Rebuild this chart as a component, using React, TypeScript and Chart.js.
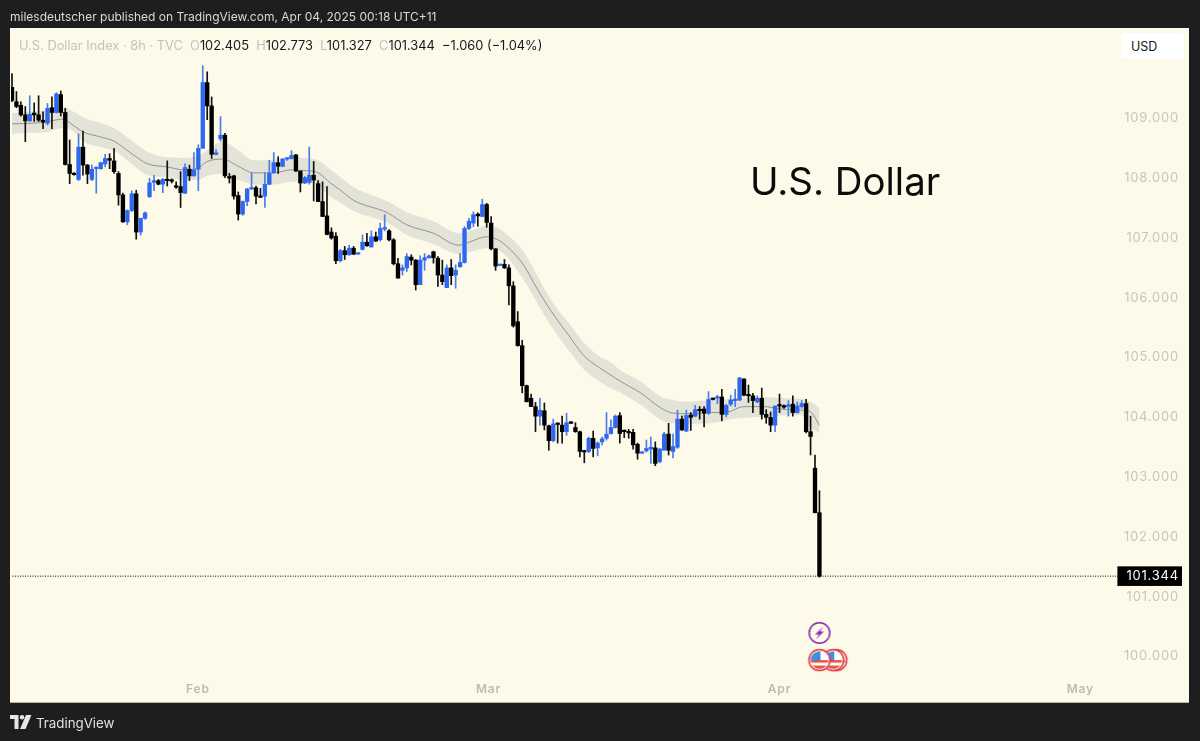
import React, { useEffect, useRef } from "react";
import { Chart, registerables } from "chart.js";

Chart.register(...registerables);

const opens = [109.52,109.28,109.22,109.06,108.96,109.09,109.06,108.97,108.92,109.18,109.10,109.40,109.10,108.23,108.08,107.98,108.52,108.22,107.98,108.16,108.16,108.24,108.33,108.29,108.08,107.72,107.27,107.46,107.74,107.10,107.33,107.69,107.93,107.96,107.90,107.98,107.97,107.87,107.86,107.75,108.15,108.04,108.15,108.50,109.60,109.21,108.40,108.66,108.72,108.03,108.04,107.71,107.40,107.61,107.82,107.84,107.70,107.70,107.90,108.09,108.26,108.20,108.32,108.33,108.39,108.12,107.92,107.93,108.05,107.91,107.61,107.37,107.10,107.03,106.62,106.79,106.72,106.83,106.73,106.81,106.93,106.85,107.02,106.97,107.15,107.12,106.97,106.57,106.46,106.50,106.68,106.63,106.22,106.63,106.67,106.77,106.66,106.38,106.17,106.50,106.38,106.52,106.59,107.16,107.25,107.40,107.36,107.56,107.25,106.82,106.54,106.56,106.50,106.20,105.60,105.20,104.53,104.32,104.18,104.02,104.11,103.86,103.61,103.90,103.87,103.76,103.92,103.83,103.76,103.44,103.43,103.65,103.49,103.59,103.65,103.73,103.83,104.03,103.77,103.76,103.75,103.55,103.40,103.44,103.47,103.49,103.26,103.45,103.72,103.43,103.50,103.97,103.77,104.04,104.02,104.13,104.14,104.07,104.32,104.32,104.34,104.05,104.22,104.28,104.29,104.64,104.38,104.36,104.26,104.32,104.05,104.00,103.87,104.21,104.19,104.18,104.22,104.08,104.18,104.23,103.76,103.15,102.405];
const highs = [109.75,109.45,109.28,109.20,109.38,109.26,109.38,109.11,109.25,109.36,109.43,109.46,109.17,108.64,108.09,108.74,108.79,108.23,108.22,108.19,108.27,108.40,108.41,108.50,108.11,107.75,107.47,107.79,107.80,107.33,107.44,108.00,108.05,107.98,108.00,108.29,107.99,107.94,108.11,108.24,108.22,108.43,108.56,109.88,109.78,109.36,108.48,109.03,108.75,108.08,108.05,107.77,107.62,107.83,108.09,107.87,107.83,108.09,108.30,108.43,108.36,108.33,108.34,108.46,108.40,108.12,108.03,108.52,108.28,107.96,107.94,107.86,107.17,107.09,106.81,106.86,106.88,106.86,106.75,107.05,107.08,107.12,107.10,107.25,107.39,107.14,106.99,106.66,106.55,106.74,106.72,106.64,106.70,106.74,106.72,106.78,106.69,106.63,106.55,106.64,106.55,106.74,107.19,107.33,107.44,107.42,107.65,107.58,107.36,106.82,106.56,106.64,106.55,106.27,105.77,105.29,104.54,104.39,104.25,104.32,104.24,103.87,103.97,103.91,104.02,104.07,103.93,103.91,103.77,103.45,103.67,103.77,103.59,103.67,104.08,103.96,104.04,104.08,103.79,103.80,103.80,103.57,103.42,103.62,103.67,103.59,103.48,103.75,103.90,103.72,104.12,104.02,104.12,104.08,104.20,104.18,104.18,104.43,104.32,104.37,104.47,104.22,104.37,104.47,104.67,104.65,104.54,104.40,104.36,104.49,104.13,104.09,104.19,104.39,104.21,104.28,104.36,104.26,104.28,104.30,104.02,103.37,102.773];
const lows = [109.28,109.18,109.04,108.61,108.95,108.95,108.95,108.83,108.89,108.83,109.09,109.04,108.22,107.91,108.05,107.96,108.05,107.91,107.96,107.75,108.15,108.19,108.16,108.08,107.55,107.26,107.22,107.44,106.98,107.05,107.31,107.68,107.79,107.89,107.76,107.87,107.92,107.83,107.51,107.74,107.96,108.03,107.79,108.50,108.98,108.33,108.39,108.62,108.01,107.92,107.65,107.30,107.38,107.54,107.81,107.57,107.68,107.51,107.89,108.08,108.08,108.19,108.30,108.32,108.11,107.77,107.91,107.90,107.62,107.61,107.36,107.05,106.98,106.57,106.60,106.64,106.71,106.72,106.73,106.80,106.86,106.85,106.94,106.95,107.12,106.95,106.55,106.33,106.38,106.44,106.55,106.13,106.22,106.46,106.66,106.58,106.19,106.22,106.17,106.22,106.16,106.51,106.58,107.14,107.19,107.20,107.36,107.18,106.80,106.46,106.54,106.49,105.88,105.51,105.19,104.41,104.26,104.18,103.76,103.87,103.79,103.45,103.59,103.57,103.57,103.70,103.90,103.75,103.34,103.24,103.41,103.34,103.36,103.54,103.62,103.72,103.82,103.57,103.66,103.65,103.47,103.30,103.40,103.42,103.23,103.19,103.24,103.45,103.37,103.32,103.48,103.78,103.76,103.78,104.01,103.97,103.84,104.05,104.29,104.23,103.94,104.01,104.19,104.18,104.28,104.36,104.25,104.08,104.24,103.97,103.90,103.76,103.76,104.08,104.15,104.02,104.02,104.07,104.15,103.74,103.37,102.40,101.327];
const closes = [109.30,109.20,109.06,108.96,109.07,109.06,108.97,108.94,109.17,109.10,109.41,109.10,108.23,108.08,108.06,108.52,108.22,108.07,108.15,108.18,108.26,108.33,108.30,108.11,107.72,107.27,107.46,107.74,107.10,107.33,107.42,107.92,107.96,107.90,107.98,107.96,107.95,107.85,107.76,108.18,108.04,108.14,108.50,109.60,109.21,108.40,108.41,108.72,108.04,108.00,107.70,107.40,107.61,107.82,107.84,107.70,107.68,107.90,108.08,108.26,108.20,108.32,108.33,108.38,108.12,107.92,108.01,108.05,107.97,107.61,107.36,107.06,107.00,106.62,106.79,106.72,106.83,106.73,106.75,106.93,106.87,107.02,106.95,107.16,107.17,106.97,106.57,106.33,106.50,106.69,106.63,106.22,106.63,106.67,106.70,106.67,106.38,106.27,106.50,106.37,106.46,106.59,107.16,107.28,107.39,107.37,107.56,107.26,106.82,106.53,106.56,106.50,106.20,105.53,105.20,104.53,104.26,104.18,104.02,104.12,103.87,103.61,103.89,103.88,103.76,103.91,103.90,103.76,103.43,103.42,103.65,103.48,103.57,103.64,103.72,103.83,104.02,103.73,103.76,103.74,103.54,103.40,103.42,103.48,103.50,103.23,103.47,103.72,103.45,103.51,103.97,103.79,104.03,104.00,104.13,104.11,104.07,104.30,104.30,104.34,104.05,104.20,104.29,104.30,104.66,104.37,104.36,104.28,104.32,104.05,104.00,103.87,104.19,104.19,104.17,104.21,104.08,104.19,104.23,103.76,103.68,102.405,101.344];

const emaIndex = [0,4.3,7.7,11.5,13.7,16.2,20,23,26.8,30.6,35,38.7,41.9,44,47.5,51,54.5,56.8,60,62.8,65.8,69,71.8,74,77,84.7,89,95,100.7,103.4,106.8,109.5,111.7,115.3,118.3,121.4,125.9,128.8,132,134.9,137.2,141.7,146.2,149,152.3,157.4,161.3,164.9,169.4,173.2,177.7,180,182];
const emaMid = [108.91,108.92,108.94,108.99,108.89,108.77,108.69,108.62,108.42,108.24,108.19,108.14,108.17,108.28,108.32,108.20,108.09,108.09,108.10,108.14,108.13,108.09,107.92,107.80,107.63,107.42,107.22,107.08,106.88,106.94,107.02,106.97,106.85,106.55,106.16,105.79,105.33,105.04,104.85,104.71,104.60,104.41,104.16,104.07,104.06,104.08,104.09,104.18,104.18,104.14,104.12,104.09,103.87];
const emaUpper = [109.09,109.11,109.14,109.19,109.12,109.01,108.92,108.84,108.64,108.44,108.35,108.34,108.37,108.47,108.61,108.47,108.30,108.30,108.32,108.35,108.34,108.30,108.14,108.02,107.85,107.61,107.43,107.28,107.08,107.12,107.20,107.17,107.05,106.77,106.38,105.97,105.54,105.26,105.04,104.92,104.79,104.60,104.35,104.29,104.26,104.29,104.31,104.32,104.34,104.32,104.31,104.26,104.16];
const emaLower = [108.74,108.76,108.77,108.84,108.79,108.61,108.52,108.46,108.25,108.05,108.02,107.97,107.97,108.04,108.07,107.97,107.90,107.89,107.90,107.94,107.94,107.87,107.69,107.59,107.45,107.25,107.05,106.90,106.73,106.77,106.83,106.80,106.67,106.30,105.93,105.54,105.08,104.81,104.62,104.49,104.41,104.21,103.96,103.90,103.89,103.90,103.96,103.99,104.01,104.03,104.04,103.82,103.75];

const priceTicks = [100, 101, 102, 103, 104, 105, 106, 107, 108, 109];
const lastPrice = 101.344;
const monthLabels = ["Feb", "Mar", "Apr", "May"];
const monthIndex = [41.9, 107.4, 173, 240.8];
const eventIndex = [185.8, 185.1, 182];
const eventPrice = [99.94, 99.94, 99.94];
const boltIndex = [182];
const boltPrice = [100.395];

const CREAM = "#fdfae9";
const BLUE = "#2f68f0";
const BLUE_WICK = "#4a7de8";
const FONT = "Inter, 'Liberation Sans', sans-serif";

function flagIcon(): HTMLCanvasElement {
  const c = document.createElement("canvas");
  c.width = 26;
  c.height = 26;
  const g = c.getContext("2d")!;
  g.beginPath();
  g.arc(13, 13, 11, 0, Math.PI * 2);
  g.fillStyle = "#fff";
  g.fill();
  g.save();
  g.beginPath();
  g.arc(13, 13, 8.8, 0, Math.PI * 2);
  g.clip();
  g.fillStyle = "#fff";
  g.fillRect(0, 0, 26, 26);
  g.fillStyle = "#e0533f";
  g.fillRect(3, 13, 20, 2.5);
  g.fillRect(3, 18.5, 20, 4);
  g.fillStyle = "#3d8fe0";
  g.fillRect(3, 4, 11, 9);
  g.restore();
  g.beginPath();
  g.arc(13, 13, 10.5, 0, Math.PI * 2);
  g.strokeStyle = "#e5323e";
  g.lineWidth = 1.5;
  g.stroke();
  return c;
}

function boltIcon(): HTMLCanvasElement {
  const c = document.createElement("canvas");
  c.width = 26;
  c.height = 26;
  const g = c.getContext("2d")!;
  g.beginPath();
  g.arc(13, 13, 10.3, 0, Math.PI * 2);
  g.fillStyle = CREAM;
  g.fill();
  g.strokeStyle = "#7b2aa8";
  g.lineWidth = 1.5;
  g.stroke();
  g.beginPath();
  g.moveTo(17, 6.5);
  g.lineTo(8.5, 14.5);
  g.lineTo(12.5, 14.5);
  g.lineTo(9.5, 19.5);
  g.lineTo(17.5, 11.5);
  g.lineTo(13.5, 11.5);
  g.closePath();
  g.fillStyle = "#8e2fb5";
  g.fill();
  return c;
}

function Legend() {
  const gray = { color: "#c3c3bd" };
  const black = { color: "#131722" };
  return (
    <div style={{ position: "absolute", left: 19, top: 38, font: `12.85px ${FONT}`, whiteSpace: "pre", lineHeight: "16px" }}>
      <span style={gray}>U.S. Dollar Index · 8h · TVC  O</span>
      <span style={black}>102.405</span>
      <span style={gray}>  H</span>
      <span style={black}>102.773</span>
      <span style={gray}>  L</span>
      <span style={black}>101.327</span>
      <span style={gray}>  C</span>
      <span style={black}>101.344  −1.060 (−1.04%)</span>
    </div>
  );
}

const letterSpacingPlugin = {
  id: "letterSpacing",
  beforeUpdate(chart: any) {
    chart.ctx.letterSpacing = "0.8px";
  },
};

export default function App() {
  const ref = useRef<HTMLCanvasElement | null>(null);

  useEffect(() => {
    if (!ref.current) return;
    const up = closes.map((c, i) => c > opens[i]);
    const chart = new Chart(ref.current, {
      type: "bar",
      plugins: [letterSpacingPlugin],
      data: {
        datasets: [
          {
            type: "line",
            data: emaIndex.map((x, i) => ({ x, y: emaUpper[i] })),
            borderWidth: 0,
            pointRadius: 0,
            cubicInterpolationMode: "monotone",
            backgroundColor: "#e4e3d7",
            fill: "+1",
            order: 9,
          },
          {
            type: "line",
            data: emaIndex.map((x, i) => ({ x, y: emaLower[i] })),
            borderWidth: 0,
            pointRadius: 0,
            cubicInterpolationMode: "monotone",
            fill: false,
            order: 10,
          },
          {
            type: "line",
            data: emaIndex.map((x, i) => ({ x, y: emaMid[i] })),
            borderColor: "#939390",
            borderWidth: 1,
            pointRadius: 0,
            cubicInterpolationMode: "monotone",
            fill: false,
            order: 8,
          },
          {
            type: "line",
            data: [
              { x: -1, y: lastPrice },
              { x: 249.5, y: lastPrice },
            ],
            borderColor: "#000000",
            borderWidth: 1,
            borderDash: [1, 1.5],
            pointRadius: 0,
            fill: false,
            order: 7,
          },
          {
            type: "bar",
            data: highs.map((h, i) => ({ x: i, y: [lows[i], h] })),
            backgroundColor: up.map((u) => (u ? BLUE_WICK : "#111111")),
            barThickness: 1,
            grouped: false,
            order: 5,
          },
          {
            type: "bar",
            data: opens.map((o, i) => ({ x: i, y: [Math.min(o, closes[i]), Math.max(o, closes[i])] })),
            backgroundColor: up.map((u) => (u ? BLUE : "#000000")),
            barThickness: 3.7,
            minBarLength: 1.5,
            grouped: false,
            order: 4,
          },
          {
            type: "scatter",
            data: eventIndex.map((x, i) => ({ x, y: eventPrice[i] })),
            pointStyle: flagIcon(),
            pointRadius: 10,
            order: 2,
          },
          {
            type: "scatter",
            data: boltIndex.map((x, i) => ({ x, y: boltPrice[i] })),
            pointStyle: boltIcon(),
            pointRadius: 10,
            order: 1,
          },
        ],
      } as any,
      options: {
        responsive: false,
        animation: false,
        layout: { padding: { left: 10, top: 28, right: 11, bottom: 38 } },
        plugins: { legend: { display: false }, tooltip: { enabled: false } },
        events: [],
        scales: {
          x: {
            type: "linear",
            min: -0.225,
            max: 265.3,
            offset: false,
            grid: { display: false, drawTicks: false },
            border: { display: false },
            afterFit: (s: any) => {
              s.height = 0;
            },
            afterBuildTicks: (s: any) => {
              s.ticks = monthIndex.map((value) => ({ value }));
            },
            ticks: {
              mirror: true,
              autoSkip: false,
              maxRotation: 0,
              padding: 6,
              color: "#bcbcb6",
              font: { family: FONT, size: 12, weight: "600" },
              callback: (v: any) => monthLabels[monthIndex.indexOf(Number(v))] ?? "",
            },
          },
          y: {
            type: "linear",
            position: "right",
            min: 99.222,
            max: 110.513,
            z: 1,
            grid: { display: false, drawTicks: false },
            border: { display: false },
            afterFit: (s: any) => {
              s.width = 0;
            },
            afterBuildTicks: (s: any) => {
              s.ticks = [...priceTicks, lastPrice].map((value) => ({ value }));
            },
            ticks: {
              mirror: true,
              padding: -10,
              autoSkip: false,
              color: (c: any) => (c.tick?.value === lastPrice ? "#ffffff" : "#c6c6c0"),
              font: { family: FONT, size: 13 },
              showLabelBackdrop: (c: any) => c.tick?.value === lastPrice,
              backdropColor: "#000000",
              backdropPadding: { left: 9, right: 3, top: 2, bottom: 2 },
              callback: (v: any) => Number(v).toFixed(3),
            },
          },
        },
      } as any,
    });
    return () => chart.destroy();
  }, []);

  return (
    <div style={{ position: "fixed", left: 0, top: 0, width: 1200, height: 741, background: "#1e1e1e", overflow: "hidden" }}>
      <div style={{ position: "absolute", left: 10, top: 28, width: 1179, height: 675, background: CREAM, borderBottom: "1px solid #b9b79f", boxSizing: "border-box" }} />
      <canvas ref={ref} width={1200} height={741} style={{ position: "absolute", left: 0, top: 0, width: 1200, height: 741 }} />
      <div style={{ position: "absolute", left: 10, top: 9, color: "#d9d9d9", font: `12px ${FONT}`, lineHeight: "16px", whiteSpace: "pre" }}>
        milesdeutscher published on TradingView.com, Apr 04, 2025 00:18 UTC+11
      </div>
      <Legend />
      <div style={{ position: "absolute", left: 1121, top: 33, width: 63, height: 26, background: "#ffffff", borderRadius: 3 }} />
      <div style={{ position: "absolute", left: 1131, top: 39, color: "#131722", font: `12.5px ${FONT}`, lineHeight: "16px" }}>USD</div>
      <div style={{ position: "absolute", left: 750, top: 157, color: "#0b0b0b", font: `38.4px ${FONT}`, lineHeight: "48px", whiteSpace: "pre" }}>U.S. Dollar</div>
      <svg style={{ position: "absolute", left: 10, top: 715 }} width="22" height="14" viewBox="0 0 22 14">
        <path d="M0 0h8.5v14H4.5V4H0z" fill="#e6e6e6" />
        <circle cx="12" cy="2.2" r="2.2" fill="#e6e6e6" />
        <path d="M16 0h5.5L15.5 14H10z" fill="#e6e6e6" />
      </svg>
      <div style={{ position: "absolute", left: 36, top: 714, color: "#e0e0e0", font: `13.3px ${FONT}`, lineHeight: "18px" }}>TradingView</div>
    </div>
  );
}
